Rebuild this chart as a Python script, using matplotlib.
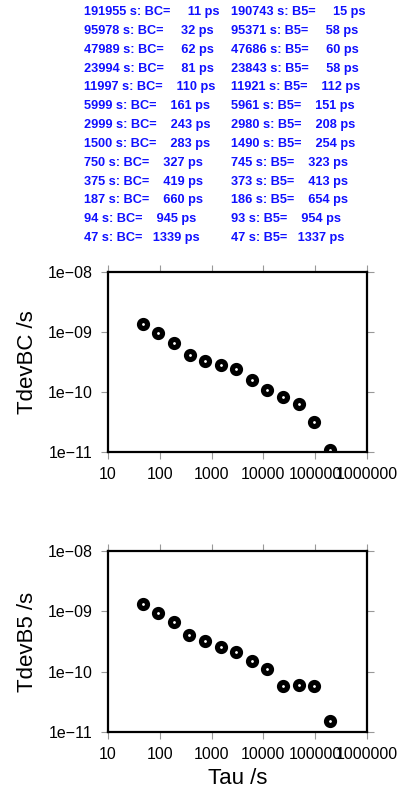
import matplotlib
matplotlib.use("Agg")
import matplotlib.pyplot as plt
from matplotlib.ticker import FixedLocator, FuncFormatter, NullLocator

# Tau (s) et valeurs TDEV (ps)
TAU_BC = [191955, 95978, 47989, 23994, 11997, 5999, 2999, 1500, 750, 375, 187, 94, 47]
TDEV_BC = [11, 32, 62, 81, 110, 161, 243, 283, 327, 419, 660, 945, 1339]
TAU_B5 = [190743, 95371, 47686, 23843, 11921, 5961, 2980, 1490, 745, 373, 186, 93, 47]
TDEV_B5 = [15, 58, 60, 58, 112, 151, 208, 254, 323, 413, 654, 954, 1337]

X_TICKS = [10, 100, 1000, 10000, 100000, 1000000]
Y_TICKS = [1e-11, 1e-10, 1e-9, 1e-8]

plt.rcParams['font.family'] = ['Liberation Sans', 'DejaVu Sans']

fig = plt.figure(figsize=(4.06, 7.93), dpi=100)

# ----> Texte en haut
y0 = 1 - 12 / 793
dy = 18.85 / 793
for i in range(len(TAU_BC)):
    fig.text(84 / 406, y0 - i * dy, f"{TAU_BC[i]} s: BC={TDEV_BC[i]:7d} ps",
             color="#1010ff", fontsize=9.2, fontweight="bold", va="center", ha="left")
    fig.text(231 / 406, y0 - i * dy, f"{TAU_B5[i]} s: B5={TDEV_B5[i]:7d} ps",
             color="#1010ff", fontsize=9.2, fontweight="bold", va="center", ha="left")


def fmt_y(v, pos):
    return f"{v:.0e}".replace("-", "\u2212")


def make_axes(rect, tau, tdev, ylabel, xlabel=None):
    ax = fig.add_axes(rect)
    ax.set_xscale("log")
    ax.set_yscale("log")
    ax.plot(tau, [v * 1e-12 for v in tdev], linestyle="none", marker="o",
            markersize=5.8, markeredgewidth=3.7, markerfacecolor="white",
            markeredgecolor="black")
    ax.set_xlim(10, 1e6)
    ax.set_ylim(1e-11, 1e-8)
    ax.xaxis.set_major_locator(FixedLocator(X_TICKS))
    ax.xaxis.set_minor_locator(NullLocator())
    ax.yaxis.set_major_locator(FixedLocator(Y_TICKS))
    ax.yaxis.set_minor_locator(NullLocator())
    ax.xaxis.set_major_formatter(FuncFormatter(lambda v, p: f"{int(round(v))}"))
    ax.yaxis.set_major_formatter(FuncFormatter(fmt_y))
    ax.tick_params(direction="out", length=5, width=0.8, color="#999999",
                   labelsize=11.5, top=True, right=True, pad=6)
    for s in ax.spines.values():
        s.set_linewidth(1.6)
    ax.set_ylabel(ylabel, fontsize=16, labelpad=7)
    if xlabel:
        ax.set_xlabel(xlabel, fontsize=16, labelpad=4)
    return ax


make_axes([108 / 406, 1 - 452 / 793, 259 / 406, 180 / 793], TAU_BC, TDEV_BC, "TdevBC /s")
make_axes([108 / 406, 1 - 732 / 793, 259 / 406, 181 / 793], TAU_B5, TDEV_B5, "TdevB5 /s", "Tau /s")

fig.savefig("out.png", dpi=100)
